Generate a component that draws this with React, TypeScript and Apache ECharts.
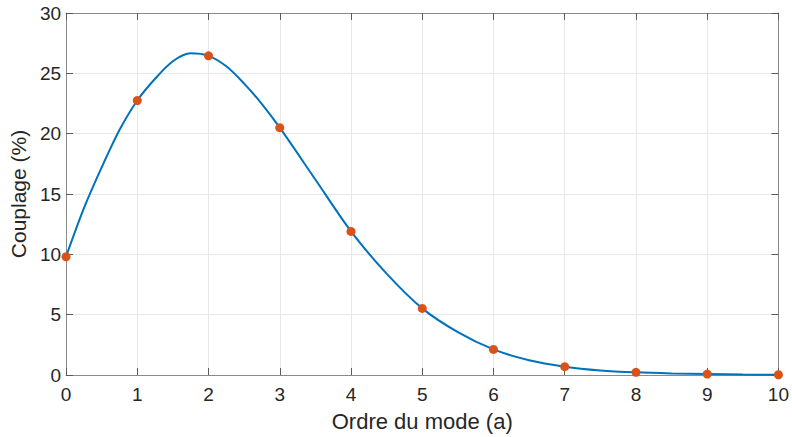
import React, { useEffect, useRef } from "react";
import * as echarts from "echarts";

// Measured points (mode order a, coupling %)
const modeOrders = [0, 1, 2, 3, 4, 5, 6, 7, 8, 9, 10];
const couplingValues = [9.8, 22.75, 26.45, 20.5, 11.9, 5.52, 2.12, 0.69, 0.22, 0.08, 0.02];

// Fitted curve
const curveX = [0, 0.25, 0.5, 0.75, 1, 1.25, 1.5, 1.75, 2, 2.25, 2.5, 2.75, 3, 3.5, 4, 4.5, 5, 5.5, 6, 6.5, 7, 7.5, 8, 8.5, 9, 9.5, 10];
const curveY = [9.8, 13.8, 17.2, 20.3, 22.75, 24.55, 26.0, 26.66, 26.45, 25.58, 24.15, 22.45, 20.5, 16.2, 11.9, 8.4, 5.52, 3.55, 2.12, 1.22, 0.69, 0.38, 0.22, 0.13, 0.08, 0.04, 0.02];

const xTicks = { min: 0, max: 10, interval: 1 };
const yTicks = { min: 0, max: 30, interval: 5 };

const FONT = "'Liberation Sans', Arial, Helvetica, sans-serif";

export default function App() {
  const ref = useRef<HTMLDivElement>(null);
  useEffect(() => {
    if (!ref.current) return;
    const chart = echarts.init(ref.current, undefined, { renderer: "svg" });
    const axisLineColor = "#8a8a8a";
    const tickColor = "#5a5a5a";
    const labelColor = "#262626";
    const gridColor = "#e8e8e8";
    chart.setOption({
      animation: false,
      backgroundColor: "#ffffff",
      textStyle: { fontFamily: FONT },
      grid: { left: 63, right: 13, top: 13, bottom: 62, containLabel: false },
      xAxis: [
        {
          type: "value",
          position: "bottom",
          min: xTicks.min,
          max: xTicks.max,
          interval: xTicks.interval,
          name: "Ordre du mode (a)",
          nameLocation: "middle",
          nameGap: 35,
          nameTextStyle: { fontSize: 22, color: labelColor, fontFamily: FONT },
          axisLine: { show: true, onZero: false, lineStyle: { color: axisLineColor, width: 1 } },
          axisTick: { show: true, inside: true, length: 7, lineStyle: { color: tickColor } },
          axisLabel: { fontSize: 19, color: labelColor, margin: 10, fontFamily: FONT },
          splitLine: { show: true, lineStyle: { color: gridColor, width: 1 } },
        },
        {
          type: "value",
          position: "top",
          min: xTicks.min,
          max: xTicks.max,
          interval: xTicks.interval,
          axisLine: { show: true, onZero: false, lineStyle: { color: axisLineColor, width: 1 } },
          axisTick: { show: true, inside: true, length: 7, lineStyle: { color: tickColor } },
          axisLabel: { show: false },
          splitLine: { show: false },
        },
      ],
      yAxis: [
        {
          type: "value",
          position: "left",
          min: yTicks.min,
          max: yTicks.max,
          interval: yTicks.interval,
          name: "Couplage (%)",
          nameLocation: "middle",
          nameGap: 33,
          nameTextStyle: { fontSize: 21, color: labelColor, fontFamily: FONT },
          axisLine: { show: true, onZero: false, lineStyle: { color: axisLineColor, width: 1 } },
          axisTick: { show: true, inside: true, length: 7, lineStyle: { color: tickColor } },
          axisLabel: { fontSize: 19, color: labelColor, margin: 5, fontFamily: FONT },
          splitLine: { show: true, lineStyle: { color: gridColor, width: 1 } },
        },
        {
          type: "value",
          position: "right",
          min: yTicks.min,
          max: yTicks.max,
          interval: yTicks.interval,
          axisLine: { show: true, onZero: false, lineStyle: { color: axisLineColor, width: 1 } },
          axisTick: { show: true, inside: true, length: 7, lineStyle: { color: tickColor } },
          axisLabel: { show: false },
          splitLine: { show: false },
        },
      ],
      series: [
        {
          type: "line",
          xAxisIndex: 0,
          yAxisIndex: 0,
          data: curveX.map((x, i) => [x, curveY[i]]),
          smooth: 0.3,
          showSymbol: false,
          symbol: "none",
          lineStyle: { color: "#0072BD", width: 2 },
          z: 2,
        },
        {
          type: "scatter",
          xAxisIndex: 0,
          yAxisIndex: 0,
          data: modeOrders.map((x, i) => [x, couplingValues[i]]),
          symbol: "circle",
          symbolSize: 9,
          itemStyle: { color: "#D95319", opacity: 1 },
          z: 3,
        },
      ],
    });
    return () => chart.dispose();
  }, []);
  return <div ref={ref} style={{ width: 792, height: 437, position: "absolute", left: 0, top: 0 }} />;
}
